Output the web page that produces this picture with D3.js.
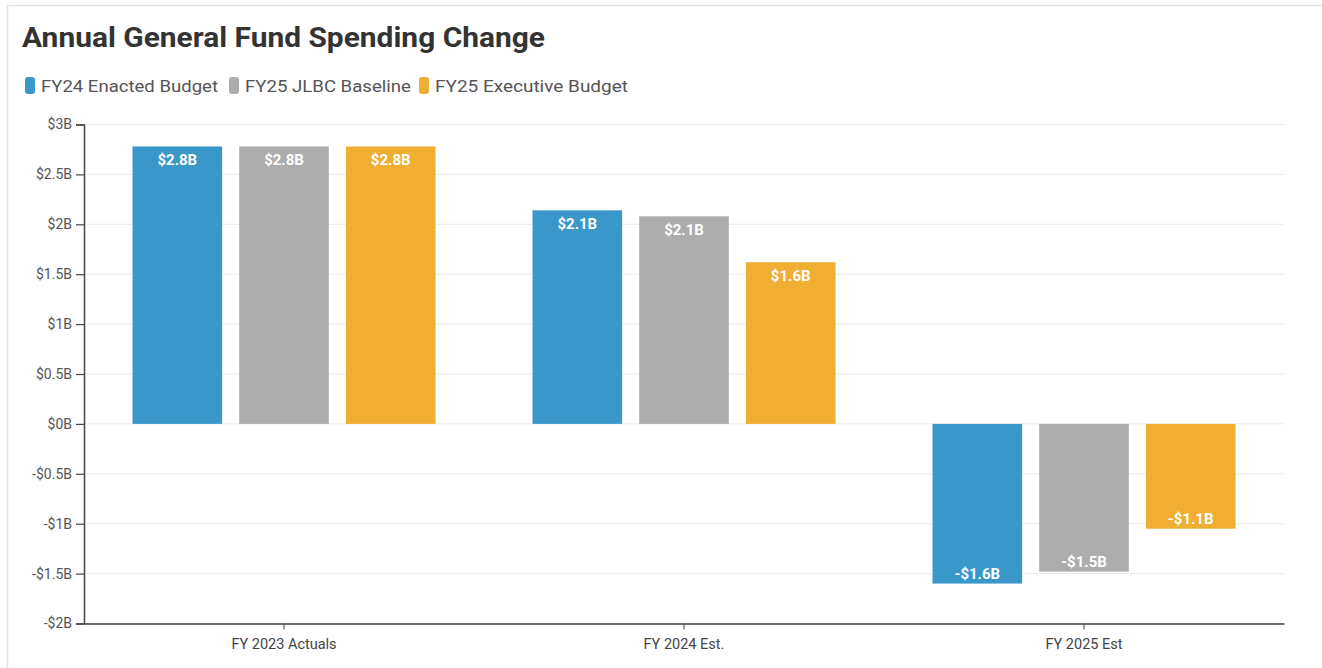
<!DOCTYPE html>
<html>
<head>
<meta charset="utf-8">
<script src="https://cdn.jsdelivr.net/npm/d3@7"></script>
<style>
  html, body { margin: 0; padding: 0; background: #fff; }
  svg { display: block; font-family: Roboto, "Noto Sans", sans-serif; }
</style>
</head>
<body>
<svg id="chart" width="1322" height="668"></svg>
<script>
const categories = ["FY 2023 Actuals", "FY 2024 Est.", "FY 2025 Est"];
const seriesNames = ["FY24 Enacted Budget", "FY25 JLBC Baseline", "FY25 Executive Budget"];
const fy24Enacted = [2.78, 2.14, -1.60];
const fy25JLBC = [2.78, 2.08, -1.48];
const fy25Executive = [2.78, 1.62, -1.05];
const seriesLabels = [
  ["$2.8B", "$2.1B", "-$1.6B"],
  ["$2.8B", "$2.1B", "-$1.5B"],
  ["$2.8B", "$1.6B", "-$1.1B"]
];
const yTicks = [3, 2.5, 2, 1.5, 1, 0.5, 0, -0.5, -1, -1.5, -2];
const yTickLabels = ["$3B", "$2.5B", "$2B", "$1.5B", "$1B", "$0.5B", "$0B", "-$0.5B", "-$1B", "-$1.5B", "-$2B"];
const colors = ["#3a97c9", "#adadad", "#f0ae33"];

const seriesValues = [fy24Enacted, fy25JLBC, fy25Executive];

const svg = d3.select("#chart");
const W = 1322, H = 668;

// frame border
svg.append("line").attr("x1", 7).attr("x2", W).attr("y1", 5.5).attr("y2", 5.5).attr("stroke", "#e3e3e3").attr("stroke-width", 1.5);
svg.append("line").attr("x1", 7.5).attr("x2", 7.5).attr("y1", 5).attr("y2", H).attr("stroke", "#e3e3e3").attr("stroke-width", 1.5);

// title
svg.append("text").attr("x", 22).attr("y", 47)
  .attr("font-size", 27).attr("font-weight", 700).attr("fill", "#333")
  .attr("textLength", 523).attr("lengthAdjust", "spacingAndGlyphs")
  .text("Annual General Fund Spending Change");

// legend
const legendX = [25, 229, 419];
const legendTextW = [177, 166, 193];
seriesNames.forEach((name, i) => {
  const g = svg.append("g").attr("transform", `translate(${legendX[i]},0)`);
  g.append("rect").attr("x", 0).attr("y", 77).attr("width", 10).attr("height", 17).attr("rx", 3)
    .attr("fill", colors[i]);
  g.append("text").attr("x", 16).attr("y", 92).attr("font-size", 16.5).attr("fill", "#555")
    .attr("textLength", legendTextW[i]).attr("lengthAdjust", "spacingAndGlyphs").text(name);
});

const margin = { left: 84, right: 1284, top: 124.5, bottom: 623.5 };

const x = d3.scaleBand().domain(categories).range([margin.left, margin.right]).paddingOuter(0).paddingInner(0);
const y = d3.scaleLinear().domain([-2, 3]).range([margin.bottom, margin.top]);

const groupW = 303;
const xs = d3.scaleBand().domain(seriesNames).range([0, groupW]).paddingInner(0.16).paddingOuter(0);

// grid
svg.append("g").selectAll("line").data(yTicks).join("line")
  .attr("x1", margin.left).attr("x2", margin.right)
  .attr("y1", d => y(d)).attr("y2", d => y(d))
  .attr("stroke", "#ececec").attr("stroke-width", 1);

// bars
seriesValues.forEach((vals, si) => {
  const g = svg.append("g");
  g.selectAll("rect").data(vals).join("rect")
    .attr("x", (d, i) => x(categories[i]) + x.bandwidth() / 2 - groupW / 2 + xs(seriesNames[si]))
    .attr("width", xs.bandwidth())
    .attr("y", d => y(Math.max(0, d)))
    .attr("height", d => Math.abs(y(d) - y(0)))
    .attr("fill", colors[si]);
  g.selectAll("text").data(vals).join("text")
    .attr("x", (d, i) => x(categories[i]) + x.bandwidth() / 2 - groupW / 2 + xs(seriesNames[si]) + xs.bandwidth() / 2)
    .attr("y", d => d >= 0 ? y(d) + 19 : y(d) - 5)
    .attr("text-anchor", "middle")
    .attr("font-size", 15).attr("font-weight", 700).attr("fill", "#fff")
    .text((d, i) => seriesLabels[si][i]);
});

// y axis
const yAxis = d3.axisLeft(y).tickValues(yTicks).tickSize(8).tickPadding(4)
  .tickFormat((d, i) => yTickLabels[i]);
const yg = svg.append("g").attr("transform", `translate(${margin.left},0)`).call(yAxis);
yg.select(".domain").attr("stroke", "#444").attr("stroke-width", 1.5);
yg.selectAll(".tick line").attr("stroke", "#444").attr("stroke-width", 1.2);
yg.selectAll(".tick text").attr("font-size", 14).attr("fill", "#555").attr("font-family", "Roboto, sans-serif");

// x axis
const xAxis = d3.axisBottom(x).tickSize(6).tickSizeOuter(0).tickPadding(9);
const xg = svg.append("g").attr("transform", `translate(0,${margin.bottom})`).call(xAxis);
xg.select(".domain").attr("stroke", "#444").attr("stroke-width", 1.5);
xg.selectAll(".tick line").attr("stroke", "#444").attr("stroke-width", 1);
xg.selectAll(".tick text").attr("font-size", 14.5).attr("fill", "#444").attr("font-family", "Roboto, sans-serif");
</script>
</body>
</html>
